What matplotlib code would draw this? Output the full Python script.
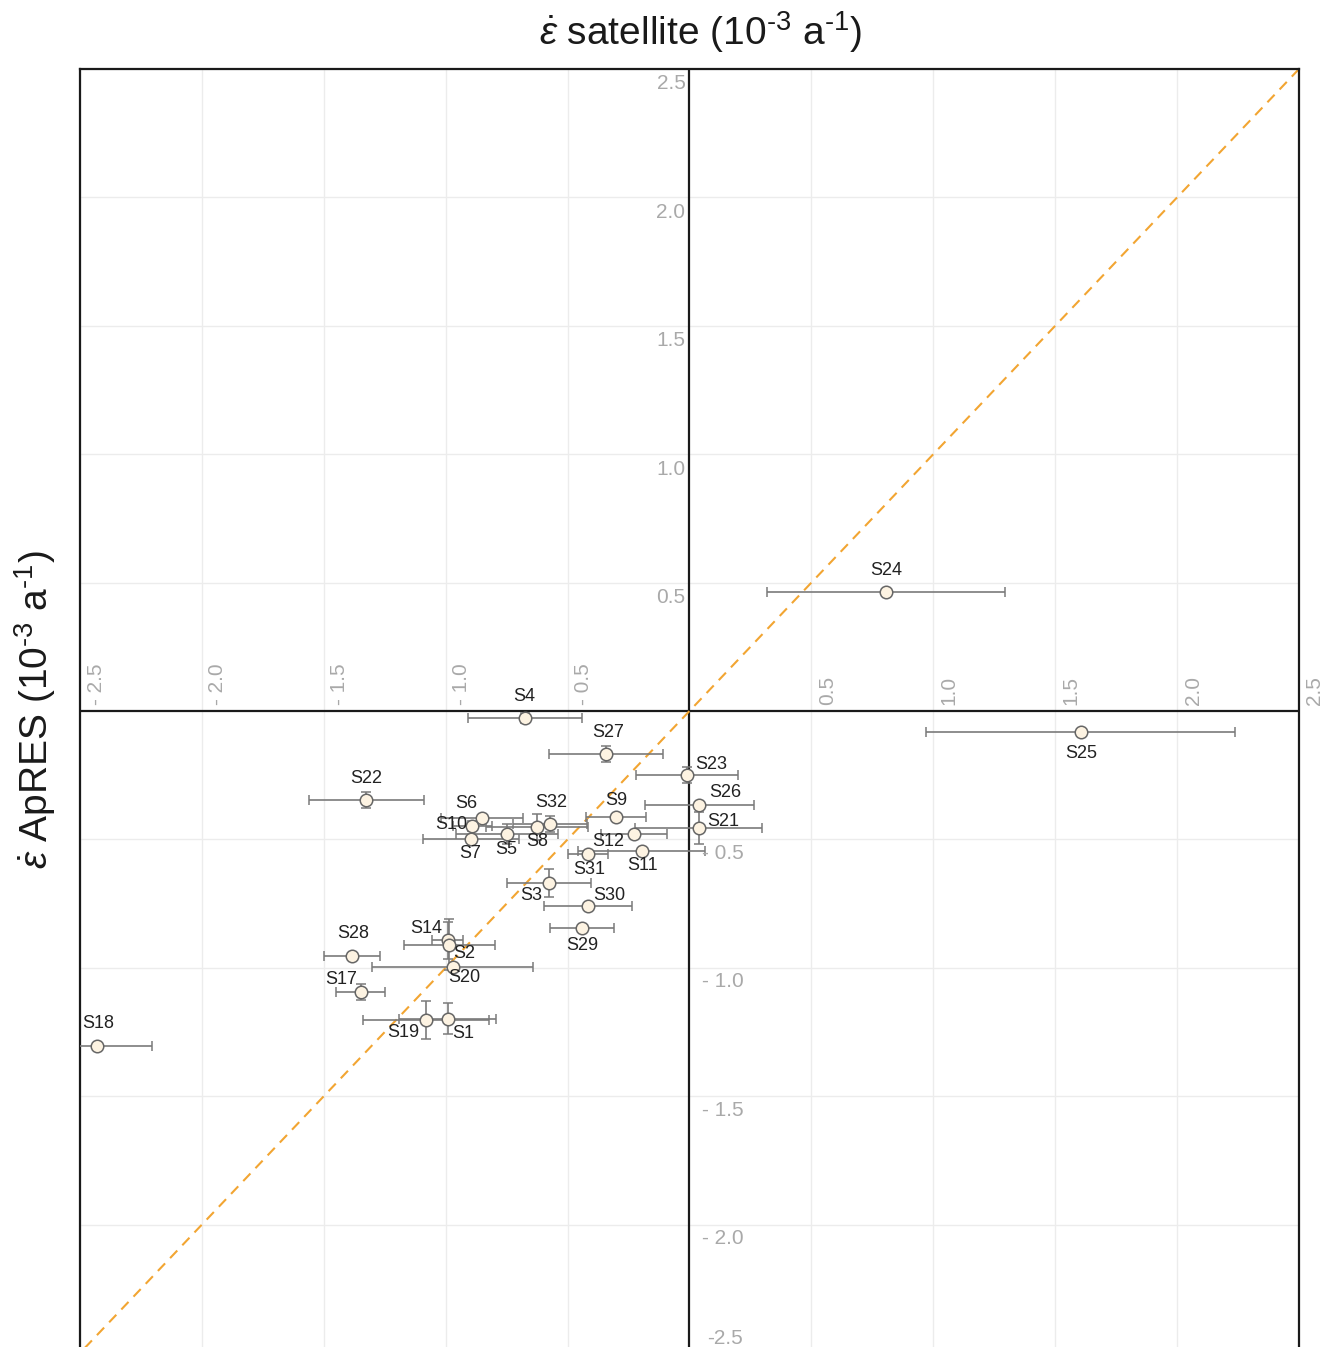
import numpy as np
import matplotlib
matplotlib.use("Agg")
import matplotlib.pyplot as plt

plt.rcParams['font.family'] = ['Liberation Sans', 'DejaVu Sans']
plt.rcParams['mathtext.fontset'] = 'custom'
plt.rcParams['mathtext.rm'] = 'Liberation Sans'
plt.rcParams['mathtext.it'] = 'Liberation Sans:italic'

# site data (10^-3 a^-1)
sites = ['S4', 'S27', 'S23', 'S26', 'S21', 'S9', 'S6', 'S10', 'S32', 'S5',
         'S7', 'S8', 'S12', 'S11', 'S31', 'S3', 'S30', 'S29', 'S14', 'S2',
         'S20', 'S28', 'S17', 'S19', 'S1', 'S18', 'S24', 'S25', 'S22']
sat = [-0.673, -0.342, -0.011, 0.041, 0.038, -0.301, -0.851, -0.892, -0.572, -0.748,
       -0.896, -0.625, -0.228, -0.196, -0.416, -0.575, -0.417, -0.440, -0.992, -0.985,
       -0.972, -1.385, -1.348, -1.081, -0.992, -2.431, 0.807, 1.604, -1.326]
apres = [-0.026, -0.167, -0.249, -0.366, -0.456, -0.412, -0.415, -0.447, -0.440, -0.479,
         -0.498, -0.451, -0.479, -0.544, -0.557, -0.671, -0.758, -0.846, -0.892, -0.910,
         -0.996, -0.953, -1.095, -1.203, -1.199, -1.305, 0.463, -0.082, -0.347]
sat_err = [0.234, 0.234, 0.210, 0.224, 0.260, 0.124, 0.170, 0.080, 0.150, 0.210,
           0.197, 0.210, 0.135, 0.260, 0.083, 0.173, 0.180, 0.132, 0.063, 0.188,
           0.329, 0.116, 0.100, 0.259, 0.198, 0.228, 0.489, 0.632, 0.236]
apres_err = [0.020, 0.032, 0.030, 0.000, 0.063, 0.000, 0.000, 0.020, 0.030, 0.040,
             0.000, 0.050, 0.000, 0.000, 0.000, 0.055, 0.000, 0.000, 0.072, 0.100,
             0.000, 0.000, 0.030, 0.075, 0.060, 0.000, 0.000, 0.000, 0.030]

ticks = [-2.5, -2.0, -1.5, -1.0, -0.5, 0.5, 1.0, 1.5, 2.0, 2.5]
x_ticklabels = ['- 2.5', '- 2.0', '- 1.5', '- 1.0', '- 0.5', '0.5', '1.0', '1.5', '2.0', '2.5']
y_ticklabels = ['-2.5', '- 2.0', '- 1.5', '- 1.0', '- 0.5', '0.5', '1.0', '1.5', '2.0', '2.5']

# label offsets in pixels
label_off = {
    'S4': (-1, 21), 'S27': (2, 21), 'S23': (24, 10), 'S26': (26, 12), 'S21': (24, 7),
    'S9': (0, 16), 'S6': (-16, 14), 'S32': (1, 21), 'S10': (-21, 1), 'S5': (-1, -15),
    'S7': (-1, -15), 'S8': (0, -15), 'S12': (-26, -7), 'S11': (1, -15), 'S31': (1, -15),
    'S3': (-18, -12), 'S30': (21, 10), 'S29': (0, -17), 'S14': (-21, 12), 'S2': (15, -9),
    'S20': (12, -11), 'S28': (1, 22), 'S17': (-20, 13), 'S19': (-23, -13), 'S1': (16, -15),
    'S18': (1, 23), 'S24': (0, 22), 'S25': (1, -21), 'S22': (0, 22),
}

W, H = 1331, 1347
fig = plt.figure(figsize=(W / 100, H / 100), dpi=100)
ax = fig.add_axes([80 / W, 1 - 1353 / H, (1299 - 80) / W, (1353 - 69) / H])
ax.set_xlim(-2.5, 2.5)
ax.set_ylim(-2.5, 2.5)
ax.set_xticks([])
ax.set_yticks([])
for s in ax.spines.values():
    s.set_color('#1a1a1a')
    s.set_linewidth(1.6)

for t in ticks:
    ax.axvline(t, color='#ececec', lw=1, zorder=0)
    ax.axhline(t, color='#ececec', lw=1, zorder=0)
ax.axvline(0, color='#1a1a1a', lw=1.6, zorder=1)
ax.axhline(0, color='#1a1a1a', lw=1.6, zorder=1)

ax.plot([-2.5, 2.5], [-2.5, 2.5], color='#f2a532', lw=1.5,
        linestyle=(0, (5, 3.5)), zorder=2)

ax.errorbar(sat, apres, xerr=sat_err, yerr=apres_err, fmt='o', ms=9,
            mfc='#fdf3e2', mec='#666666', mew=1.1, ecolor='#7a7a7a',
            elinewidth=1.2, capsize=3.5, capthick=1.2, zorder=3)

for name, xv, yv in zip(sites, sat, apres):
    dx, dy = label_off[name]
    ax.annotate(name, (xv, yv), xytext=(dx, dy), textcoords='offset pixels',
                ha='center', va='center', fontsize=13, color='#222222', zorder=4)

tick_col = '#a9a9a9'
for t, lab in zip(ticks, x_ticklabels):
    ax.annotate(lab, (t, 0), xytext=(16, 6), textcoords='offset pixels',
                rotation=90, ha='center', va='bottom', fontsize=15, color=tick_col,
                annotation_clip=False)
for t, lab in zip(ticks, y_ticklabels):
    if t > 0:
        ax.annotate(lab, (0, t), xytext=(-4, -15), textcoords='offset pixels',
                    ha='right', va='center', fontsize=15, color=tick_col)
    elif t == -2.5:
        ax.annotate(lab, (0, t), xytext=(18, 15), textcoords='offset pixels',
                    ha='left', va='center', fontsize=15, color=tick_col,
                    annotation_clip=False)
    else:
        ax.annotate(lab, (0, t), xytext=(13, -14), textcoords='offset pixels',
                    ha='left', va='center', fontsize=15, color=tick_col)

fig.text(700 / W, 1 - 32 / H, r'$\dot{\varepsilon}$ satellite (10$^{\text{-3}}$ a$^{\text{-1}}$)',
         ha='center', va='center', fontsize=28, color='#1a1a1a')
fig.text(35 / W, 1 - 710 / H, r'$\dot{\varepsilon}$ ApRES (10$^{\text{-3}}$ a$^{\text{-1}}$)',
         ha='center', va='center', rotation=90, fontsize=28, color='#1a1a1a')

fig.savefig('out.png', dpi=100)
